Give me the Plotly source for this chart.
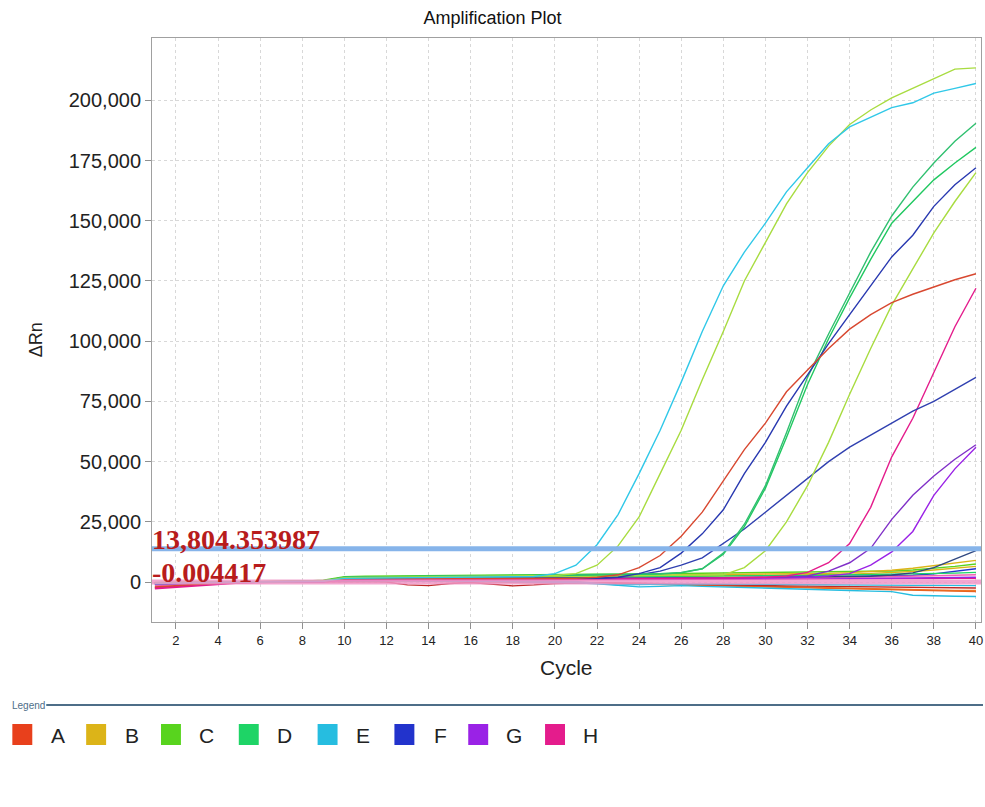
import plotly.graph_objects as go

cycles = list(range(1, 41))

# ---- amplifying wells (ΔRn per cycle 1..40) ----
E1 = [-600,-400,-200,-100,0,0,100,100,300,
      1500,1600,1700,1700,1800,1800,1900,2000,2100,2300,
      3500,7000,15500,28000,45000,63000,83000,104000,123000,137000,149000,162000,172000,182000,189000,193000,197000,199000,203000,205000,207000]
C1 = [-500,-300,-200,-100,0,0,100,200,400,
      1800,1900,2000,2000,2100,2100,2200,2300,2400,2500,
      2700,3500,7000,15000,27000,45000,63000,84000,104000,125000,141000,157000,170000,181000,190000,196000,201000,205000,209000,213000,213500]
A1 = [-2000,-1500,-800,-400,-200,0,0,100,200,
      1200,1300,1300,1400,1300,1200,1300,1400,1400,1500,
      1500,1500,2000,3000,6000,11000,19000,29000,42000,55000,66000,79000,88000,97000,105000,111000,116000,119500,122500,125500,128000]
F1 = [-700,-500,-300,-200,-100,0,0,100,200,
      1300,1400,1400,1500,1500,1500,1600,1600,1700,1700,
      1600,1500,1500,2000,3500,6000,12000,20000,30000,45000,58000,73000,86000,99000,111000,123000,135000,144000,156000,165000,172000]
D1 = [-400,-300,-200,-100,0,100,100,200,400,
      2000,2200,2300,2300,2400,2400,2500,2600,2700,2800,
      2900,3000,3000,3100,3200,3500,4000,5500,12000,24000,40000,62000,85000,103000,120000,137000,152000,164000,174000,183000,190500]
D2 = [-500,-300,-200,-100,0,100,100,200,400,
      1900,2100,2200,2200,2300,2300,2400,2500,2500,2600,
      2700,2800,2900,3000,3100,3300,3800,5500,11500,23000,39000,60000,82000,101000,118000,134000,149000,158000,167000,174000,180500]
C2 = [-300,-200,-100,0,0,100,100,200,400,
      1700,1800,1900,1900,2000,2000,2100,2100,2200,2200,
      2300,2300,2400,2400,2500,2500,2600,2800,3000,6000,13000,25000,40000,58000,78000,97000,115000,130000,145000,158000,170000]
F2 = [-600,-400,-200,-100,0,0,100,200,300,
      1400,1500,1500,1500,1600,1600,1600,1700,1700,1800,
      1700,1600,1500,2000,3000,4500,7000,10000,16000,22000,29000,36000,43000,50000,56000,61000,66000,71000,75000,80000,85000]
H1 = [-2500,-2000,-1200,-600,-300,-100,0,0,100,
      800,900,900,1000,1000,900,900,1000,1000,1100,
      1100,1200,1200,1300,1300,1400,1500,1600,1700,1800,2000,2500,4000,8000,16000,31000,52000,68000,87000,106000,122000]
G1 = [-900,-600,-400,-200,-100,0,0,100,200,
      1000,1100,1100,1200,1200,1200,1300,1300,1300,1400,
      1400,1400,1500,1500,1500,1600,1600,1700,1700,1800,1900,2000,2500,4500,8000,14000,26000,36000,44000,51000,57000]
G2 = [-800,-600,-400,-200,-100,0,0,100,200,
      900,1000,1000,1100,1100,1100,1200,1200,1200,1300,
      1300,1300,1300,1400,1400,1400,1500,1500,1600,1600,1700,1800,2000,2500,3500,7000,12500,21000,36000,47000,56000]

# ---- low / flat wells ----
F3 = [-500,-300,-200,-100,0,0,100,100,200,
      1200,1300,1300,1300,1400,1400,1400,1500,1500,1500,
      1500,1500,1600,1600,1600,1700,1700,1700,1800,1800,1900,1900,2000,2100,2200,2400,2900,3800,6000,9500,13000]
B1 = [-300,-200,-100,0,0,100,100,200,300,
      1800,1900,2000,2000,2100,2100,2200,2200,2300,2300,
      2400,2400,2500,2500,2600,2600,2700,2800,2900,3000,3100,3200,3400,3600,3900,4300,4900,5700,6700,7800,9000]
C3 = [-200,-100,0,0,100,100,200,300,800,
      2200,2400,2500,2600,2600,2700,2800,2900,3000,3000,
      3100,3100,3200,3200,3300,3300,3400,3500,3600,3700,3800,3900,4000,4100,4200,4300,4600,5000,5700,6500,7500]
D3 = [-400,-300,-200,-100,0,0,100,200,300,
      1600,1700,1800,1800,1900,1900,2000,2000,2100,2100,
      2200,2200,2300,2300,2300,2400,2400,2500,2500,2600,2600,2700,2700,2800,2900,3000,3100,3300,3500,3700,4000]
E2 = [-600,-400,-300,-200,-100,0,0,100,200,
      600,600,500,500,400,300,300,200,100,0,
      -100,-300,-700,-1500,-2000,-1800,-1500,-1800,-2000,-2300,-2500,-2800,-3000,-3300,-3500,-3800,-4000,-5500,-5800,-5900,-6000]
E3 = [-300,-200,-100,0,0,0,100,100,200,
      900,900,800,800,700,700,600,600,500,500,
      400,200,-500,-1200,-1000,-800,-600,-700,-800,-900,-1000,-1100,-1100,-1200,-1200,-1300,-1300,-1400,-1400,-1500,-1500]
A2 = [-500,-300,-100,0,0,100,100,200,300,
      800,900,900,800,700,600,500,400,300,200,
      100,0,-200,-400,-600,-800,-1000,-1200,-1500,-1700,-2000,-2200,-2400,-2600,-2800,-3000,-3100,-3300,-3400,-3500,-3500]
A3 = [-2200,-1800,-1000,-500,-300,-100,0,0,100,
      300,200,0,-1200,-1500,-600,-200,-800,-1600,-1200,
      -600,-400,-300,-400,-500,-700,-900,-1000,-1200,-1300,-1500,-1600,-1700,-1800,-1900,-2000,-2100,-2200,-2300,-2400,-2500]
A4 = [-400,-300,-200,-100,0,0,100,100,200,
      500,500,400,400,300,300,200,200,100,100,
      0,-200,-400,-600,-800,-1000,-1300,-1500,-1700,-2000,-2300,-2500,-2700,-2900,-3100,-3300,-3500,-3600,-3800,-3900,-4000]
H2 = [-2800,-2200,-1400,-800,-400,-200,0,0,100,
      700,700,700,800,800,800,800,900,900,900,
      900,900,1000,1000,1000,1000,1100,1100,1100,1200,1200,1200,1300,1300,1300,1300,1400,1400,1400,1500,1500]
G3 = [-700,-500,-300,-200,-100,0,0,100,200,
      1000,1000,1100,1100,1100,1100,1200,1200,1200,1200,
      1200,1200,1300,1300,1300,1300,1300,1400,1400,1400,1400,1500,1500,1500,1600,1600,1600,1700,1800,1900,2000]
F4 = [-500,-400,-200,-100,0,0,100,100,200,
      1100,1200,1200,1200,1300,1300,1300,1400,1400,1400,
      1400,1500,1500,1500,1600,1600,1600,1700,1700,1800,1800,1900,2000,2100,2200,2300,2500,2800,3400,4300,5500]
B2 = [-300,-200,-100,0,0,100,100,200,300,
      1500,1600,1600,1700,1700,1800,1800,1900,1900,2000,
      2000,2100,2100,2200,2200,2300,2300,2400,2400,2500,2600,2700,2900,3100,3300,3600,3900,4400,5000,5700,6500]
H3 = [-1500,-1100,-700,-400,-200,0,0,100,200,
      900,900,1000,1000,1000,1100,1100,1100,1200,1200,
      1200,1200,1300,1300,1300,1400,1400,1400,1500,1500,1600,1600,1700,1800,1900,2000,2200,2400,2600,2800,3000]

threshold = 13804.353987
baseline = -0.004417
threshold_label = "13,804.353987"
baseline_label = "-0.004417"

y_ticks = [0, 25000, 50000, 75000, 100000, 125000, 150000, 175000, 200000]
y_ticklabels = ["0", "25,000", "50,000", "75,000", "100,000", "125,000", "150,000", "175,000", "200,000"]
x_ticks = list(range(2, 41, 2))

legend_labels = ["A", "B", "C", "D", "E", "F", "G", "H"]
legend_colors = ["#e8401c", "#dcb418", "#58d41e", "#1ed466", "#26bde0", "#2233cc", "#9a22e6", "#e41c8c"]
col = dict(zip(legend_labels, legend_colors))
YG = "#a8dc40"

series = [
    (A2, "#f07828"), (A4, "#e86420"), (A3, "#c02828"), (E2, col["E"]), (E3, col["E"]),
    (H2, col["H"]), (G3, col["G"]), (F4, col["F"]), (B2, col["B"]), (H3, "#f060b0"),
    (D3, col["D"]), (C3, col["C"]), (B1, col["B"]), (F3, "#304880"),
    (G2, col["G"]), (G1, "#8030c8"), (H1, col["H"]), (F2, "#3040b0"), (C2, YG),
    (D2, "#20c860"), (D1, "#30c070"), (F1, "#2838b0"), (A1, "#d84830"), (C1, YG), (E1, "#30c8e8"),
]

fig = go.Figure()
for vals, c in series:
    fig.add_trace(go.Scatter(x=cycles, y=vals, mode="lines",
                             line=dict(color=c, width=1.4), showlegend=False,
                             hoverinfo="skip"))

W, H = 985, 807
L, R, T, B = 152, 2, 38, 185
pw, ph = W - L - R, H - T - B
def px(x): return (x - L) / pw
def py(y): return (H - B - y) / ph

SANS = "Liberation Sans"
SERIF_RED = dict(family="Liberation Serif", size=28, color="#b81c1c")

shapes = [
    dict(type="line", xref="paper", yref="y", x0=0, x1=1, y0=threshold, y1=threshold,
         line=dict(color="#86b4ea", width=5), layer="above"),
    dict(type="line", xref="paper", yref="y", x0=0, x1=1, y0=baseline, y1=baseline,
         line=dict(color="rgba(240,150,200,0.85)", width=5), layer="above"),
    dict(type="line", xref="paper", yref="paper", x0=px(46), x1=px(985), y0=py(705), y1=py(705),
         line=dict(color="#4e6e88", width=2)),
]
ann = [
    dict(text="<b>%s</b>" % threshold_label, xref="paper", yref="y", x=0, y=threshold,
         xanchor="left", yanchor="bottom", xshift=-2, yshift=-8, showarrow=False, font=SERIF_RED),
    dict(text="<b>%s</b>" % baseline_label, xref="paper", yref="y", x=0, y=baseline,
         xanchor="left", yanchor="bottom", xshift=-2, yshift=-8, showarrow=False, font=SERIF_RED),
    dict(text="Legend", xref="paper", yref="paper", x=px(10), y=py(705), xanchor="left",
         yanchor="middle", showarrow=False, font=dict(family=SANS, size=10, color="#4e6e88")),
    dict(text="ΔRn", xref="paper", yref="paper", x=px(36), y=py(340), xanchor="center",
         yanchor="middle", textangle=-90, showarrow=False, font=dict(family=SANS, size=18, color="#222")),
    dict(text="Cycle", xref="paper", yref="paper", x=px(568), y=py(667), xanchor="center",
         yanchor="middle", showarrow=False, font=dict(family=SANS, size=21, color="#222")),
]
sq_x = [12, 86, 161, 239, 318, 395, 469, 546]
for i, (lab, c) in enumerate(zip(legend_labels, legend_colors)):
    x0 = sq_x[i]
    shapes.append(dict(type="rect", xref="paper", yref="paper", x0=px(x0), x1=px(x0 + 20),
                       y0=py(745), y1=py(724), fillcolor=c, line=dict(width=0)))
    ann.append(dict(text=lab, xref="paper", yref="paper", x=px(x0 + 46), y=py(735),
                    xanchor="center", yanchor="middle", showarrow=False,
                    font=dict(family=SANS, size=21, color="#222")))

axis_common = dict(showgrid=True, gridcolor="#d8d8d8", griddash="3px,3px", gridwidth=1,
                   showline=True, linecolor="#a0a0a0", linewidth=1, mirror=True,
                   ticks="outside", ticklen=6, tickcolor="#909090", zeroline=False)

fig.update_layout(
    width=W, height=H, margin=dict(l=L, r=R, t=T, b=B),
    paper_bgcolor="white", plot_bgcolor="white",
    title=dict(text="Amplification Plot", x=0.5, xanchor="center", y=1 - 18 / H,
               yanchor="middle", font=dict(family=SANS, size=18, color="#111")),
    shapes=shapes, annotations=ann,
    xaxis=dict(range=[0.863, 40.24], tickmode="array", tickvals=x_ticks,
               ticklabeloverflow="allow",
               tickfont=dict(family=SANS, size=13, color="#222"), **axis_common),
    yaxis=dict(range=[-16600, 225900], tickmode="array", tickvals=y_ticks, ticktext=y_ticklabels,
               tickfont=dict(family=SANS, size=20, color="#222"), **axis_common),
)
fig.write_html("out.html", config={"displayModeBar": False},
               post_script="document.body.style.margin='0px';document.body.style.overflow='hidden';")
